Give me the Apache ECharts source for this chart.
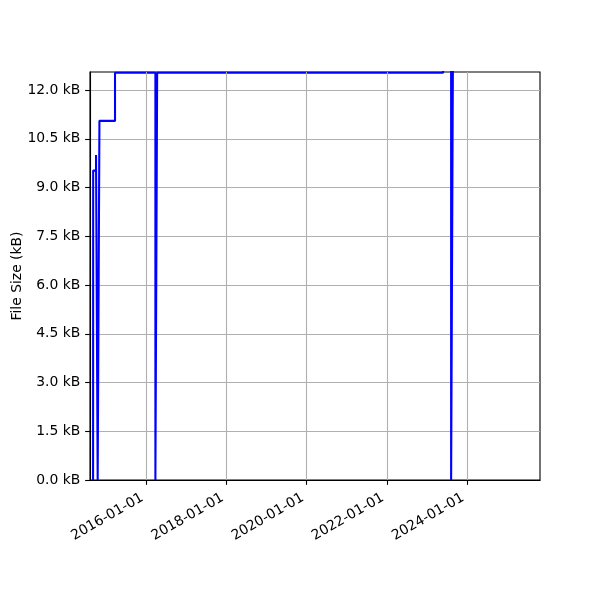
<!DOCTYPE html>
<html><head><meta charset="utf-8">
<script src="https://cdn.jsdelivr.net/npm/echarts@6/dist/echarts.min.js"></script>
<style>html,body{margin:0;padding:0;background:#fff}#c{width:600px;height:600px}</style>
</head><body><div id="c"></div>
<script>
// data: commit dates and file sizes (kB)
const dates = ['2014-09-02','2014-09-03','2014-09-29','2014-10-14','2014-10-30','2015-03-21','2016-03-23','2016-04-08','2023-05-28','2023-08-09','2023-08-25','2025-04-20'];
const sizes = [0, 9.52, 10.0, 0, 11.05, 12.53, 0, 12.53, 12.7, 0, 12.7, 12.7];
const xTickDates = ['2016-01-01','2018-01-01','2020-01-01','2022-01-01','2024-01-01'];
const yTicks = [0, 1.5, 3.0, 4.5, 6.0, 7.5, 9.0, 10.5, 12.0];
const xRange = ['2014-08-05','2025-10-27'];
const yMax = 12.554;

const ts = d => Date.parse(d + 'T00:00:00Z');
const seriesData = dates.map((d, i) => [ts(d), sizes[i]]);
const xTicks = xTickDates.map(ts);
const pad = n => String(n).padStart(2, '0');
const fmtDate = v => { const d = new Date(v); return d.getUTCFullYear() + '-' + pad(d.getUTCMonth() + 1) + '-' + pad(d.getUTCDate()); };

const font = 'DejaVu Sans';
const fs = 13.9;
const chart = echarts.init(document.getElementById('c'), null, {renderer: 'canvas'});
chart.setOption({
  animation: false,
  backgroundColor: '#fff',
  grid: {left: 90, right: 60, top: 72, bottom: 120, outerBoundsMode: 'none', containLabel: false, show: true, borderColor: '#000', borderWidth: 1.1, backgroundColor: 'transparent'},
  xAxis: {
    type: 'value', min: ts(xRange[0]), max: ts(xRange[1]),
    axisLine: {show: true, onZero: false, lineStyle: {color: '#000', width: 1.1}},
    axisTick: {show: true, length: 4.86, lineStyle: {color: '#000', width: 1.1}, customValues: xTicks},
    axisLabel: {customValues: xTicks, rotate: 30, margin: 14.4, padding: [0, 4.6, 0, 0], color: '#000', fontFamily: font, fontSize: fs, formatter: v => fmtDate(v)},
    splitLine: {show: false}
  },
  yAxis: {
    type: 'value', min: 0, max: yMax, interval: 1.5,
    name: 'File Size (kB)', nameLocation: 'middle', nameGap: 66, nameMoveOverlap: false,
    nameTextStyle: {color: '#000', fontFamily: font, fontSize: fs},
    axisLine: {show: true, lineStyle: {color: '#000', width: 1.1}},
    axisTick: {show: true, length: 4.86, lineStyle: {color: '#000', width: 1.1}, customValues: yTicks},
    axisLabel: {customValues: yTicks, margin: 9.7, color: '#000', fontFamily: font, fontSize: fs, formatter: v => v.toFixed(1) + ' kB'},
    splitLine: {show: true, lineStyle: {color: '#b0b0b0', width: 1.1}}
  },
  series: [{
    type: 'line', step: 'end', data: seriesData, showSymbol: false, symbol: 'none',
    lineStyle: {color: '#0000ff', width: 2.08}, clip: true,
    markLine: {
      silent: true, symbol: 'none', label: {show: false},
      lineStyle: {color: '#b0b0b0', width: 1.1, type: 'solid'},
      data: xTicks.map(t => ({xAxis: t}))
    },
    z: 3
  }]
});
</script></body></html>
